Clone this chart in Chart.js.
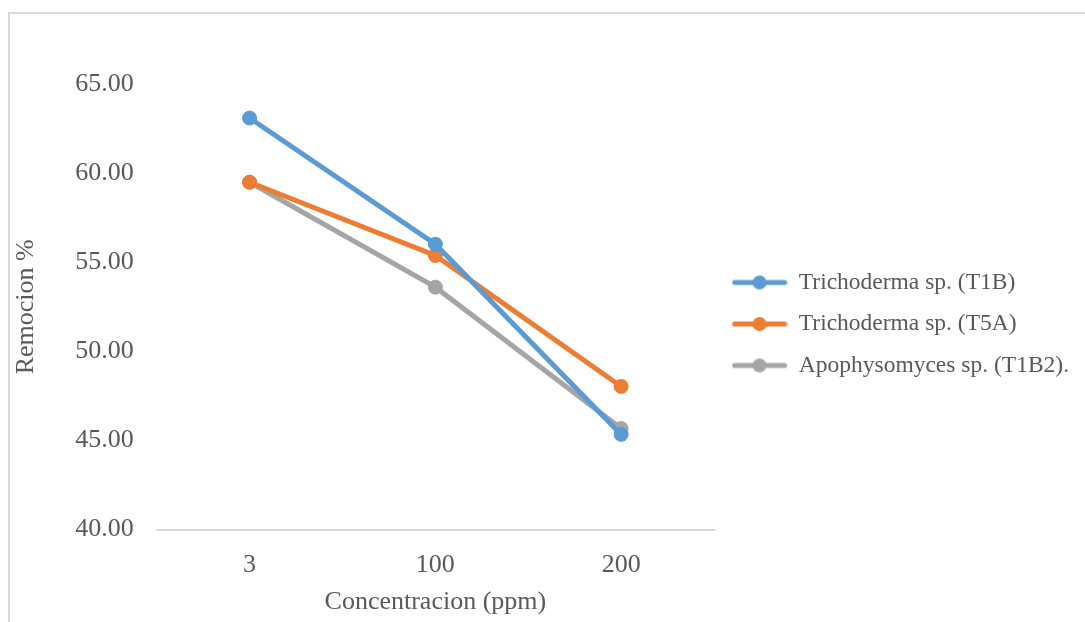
<!DOCTYPE html>
<html>
<head>
<meta charset="utf-8">
<script src="https://cdn.jsdelivr.net/npm/chart.js@4/dist/chart.umd.min.js"></script>
<style>
	html, body { margin: 0; padding: 0; background: #fff; overflow: hidden; }
	#frame {
		position: absolute;
		left: 8px;
		top: 12px;
		width: 1077px;
		height: 610px;
		border-top: 2px solid #d9d9d9;
		border-left: 2px solid #d9d9d9;
	}
	#chart { display: block; }
</style>
</head>
<body>
<div id="frame"><canvas id="chart" width="1075" height="608"></canvas></div>
<script>
const labels = ["3", "100", "200"];
const seriesNames = ["Trichoderma sp. (T1B)", "Trichoderma sp. (T5A)", "Apophysomyces sp. (T1B2)."];
const t1b = [63.09, 56.01, 45.34];
const t5a = [59.49, 55.38, 48.03];
const t1b2 = [59.49, 53.60, 45.67];
const colors = ["#5B9BD5", "#ED7D31", "#A5A5A5"];

const serif = "'Liberation Serif', 'Times New Roman', serif";

// legend marker: short line with a dot in the middle
const makeMarker = (color) => {
	const c = document.createElement("canvas");
	c.width = 56;
	c.height = 16;
	const ctx = c.getContext("2d");
	ctx.strokeStyle = color;
	ctx.lineWidth = 5;
	ctx.lineCap = "round";
	ctx.beginPath();
	ctx.moveTo(3, 8);
	ctx.lineTo(53, 8);
	ctx.stroke();
	ctx.fillStyle = color;
	ctx.beginPath();
	ctx.arc(28, 8, 7, 0, Math.PI * 2);
	ctx.fill();
	return c;
};

const makeDataset = (label, data, color) => ({
	label,
	data,
	borderColor: color,
	backgroundColor: color,
	borderWidth: 5,
	pointRadius: 7,
	pointHoverRadius: 7,
	pointBorderWidth: 1,
	pointBackgroundColor: color,
	pointBorderColor: color,
	tension: 0
});

const data = {
	labels,
	datasets: [
		makeDataset(seriesNames[0], t1b, colors[0]),
		makeDataset(seriesNames[1], t5a, colors[1]),
		makeDataset(seriesNames[2], t1b2, colors[2])
	]
};

const markers = colors.map(makeMarker);

// nudge the legend block up a little, like the original
const legendShift = {
	id: "legendShift",
	afterLayout(chart) {
		const lg = chart.legend;
		if (!lg) return;
		lg.top -= 27;
		lg.bottom -= 27;
		lg.adjustHitBoxes && lg.adjustHitBoxes();
	}
};

const config = {
	type: "line",
	data,
	options: {
		responsive: false,
		animation: false,
		layout: {
			padding: {top: 70, right: 6, bottom: 4, left: 1}
		},
		plugins: {
			tooltip: {enabled: false},
			legend: {
				position: "right",
				align: "center",
				maxWidth: 420,
				labels: {
					usePointStyle: true,
					pointStyleWidth: 55,
					padding: 18,
					color: "#595959",
					font: {family: serif, size: 23.5},
					generateLabels: (chart) => {
						const items = Chart.defaults.plugins.legend.labels.generateLabels(chart);
						items.forEach((item, i) => {
							item.pointStyle = markers[i];
						});
						return items;
					}
				}
			}
		},
		scales: {
			x: {
				offset: true,
				grid: {display: false, drawTicks: false},
				border: {display: true, color: "#d9d9d9", width: 2},
				ticks: {color: "#595959", font: {family: serif, size: 26}, padding: 20},
				title: {
					display: true,
					text: "Concentracion (ppm)",
					color: "#595959",
					font: {family: serif, size: 26},
					padding: {top: -14, bottom: 0}
				}
			},
			y: {
				min: 40,
				max: 65,
				grid: {display: false, drawTicks: false},
				border: {display: false},
				ticks: {
					stepSize: 5,
					color: "#595959",
					font: {family: serif, size: 26},
					padding: 23,
					callback: (value) => Number(value).toFixed(2)
				},
				title: {
					display: true,
					text: "Remocion %",
					color: "#595959",
					font: {family: serif, size: 26},
					padding: {top: 0, bottom: 10}
				}
			}
		}
	},
	plugins: [legendShift]
};

new Chart(document.getElementById("chart"), config);
</script>
</body>
</html>
